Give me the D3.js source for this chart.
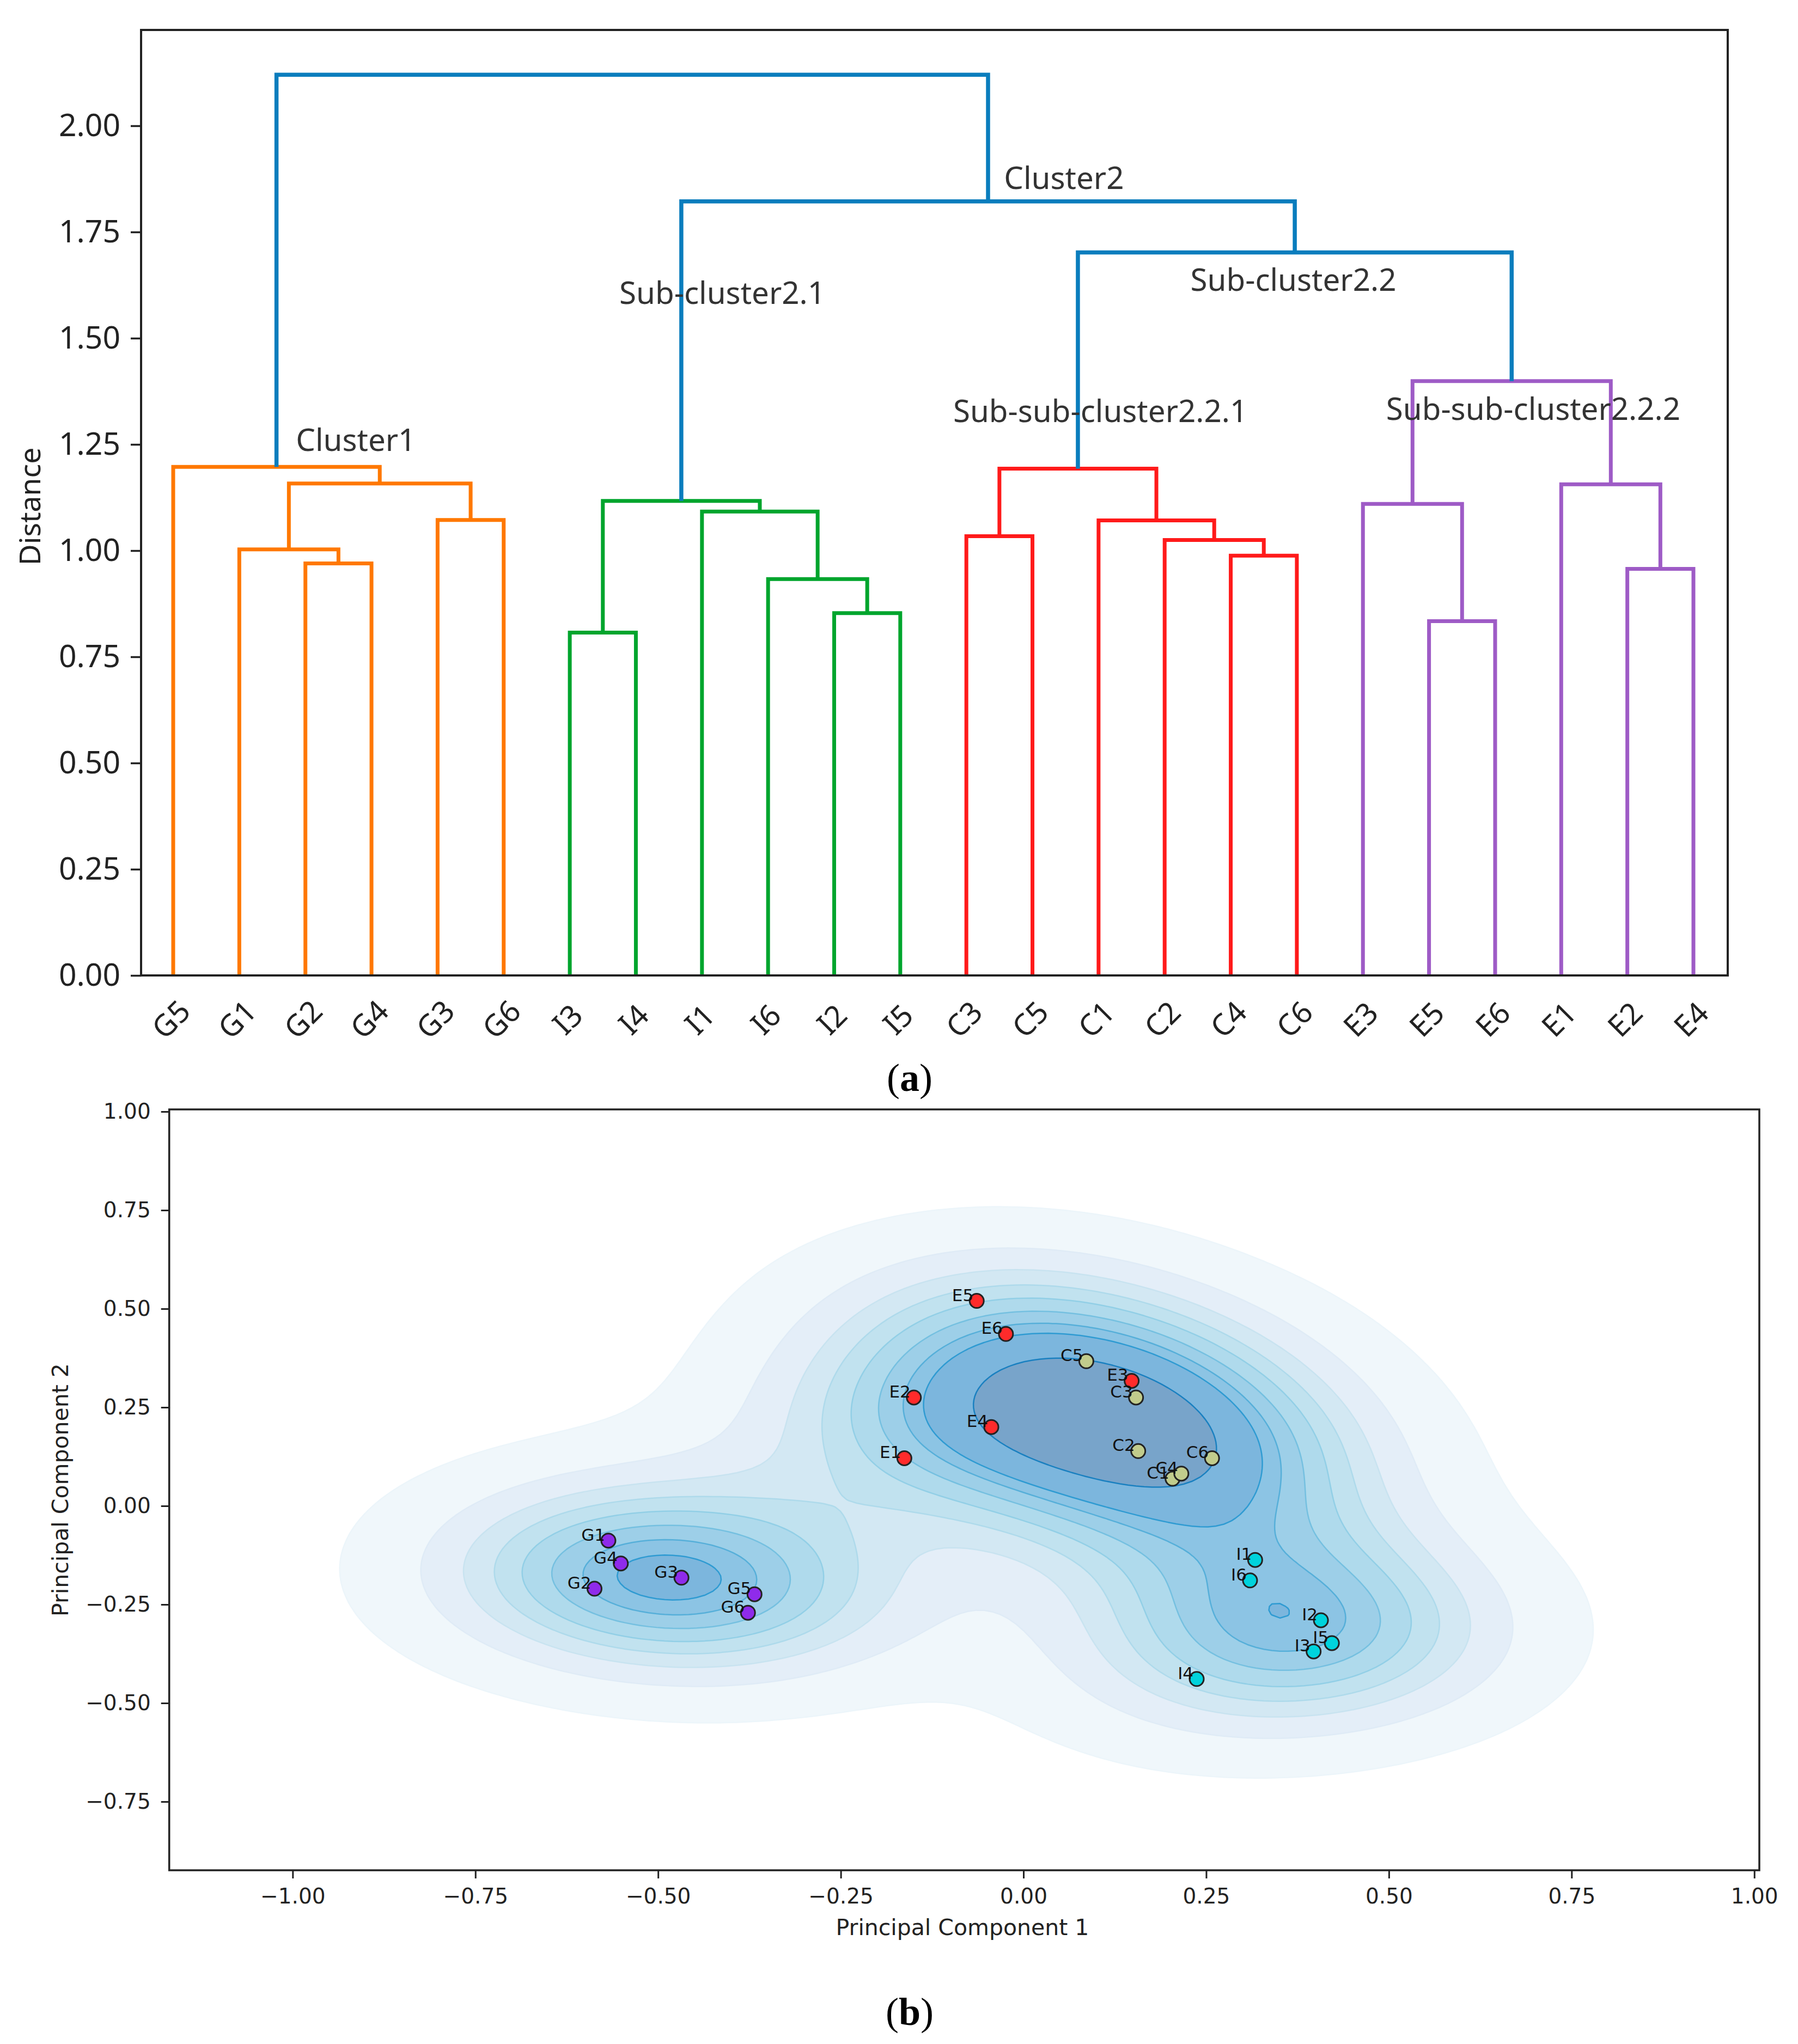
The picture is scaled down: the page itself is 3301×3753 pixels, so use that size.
<!DOCTYPE html>
<html><head><meta charset="utf-8">
<script src="https://cdn.jsdelivr.net/npm/d3@7"></script>
<style>html,body{margin:0;padding:0;background:#fff}svg{display:block}</style>
</head><body><div id="chart"></div>
<script>
// ---- Panel (a) data
const leaves = ["G5","G1","G2","G4","G3","G6","I3","I4","I1","I6","I2","I5","C3","C5","C1","C2","C4","C6","E3","E5","E6","E1","E2","E4"];
const mergeA = ["G2","G1","G3","m1","G5","I3","I2","I6","I1","m5","C3","C4","C2","C1","m10","E5","E3","E2","E1","m16","m14","m9","m4"];
const mergeB = ["G4","m0","G6","m2","m3","I4","I5","m6","m7","m8","C5","C6","m11","m12","m13","E6","m15","E4","m17","m18","m19","m20","m21"];
const mergeHeights = [0.970,1.003,1.072,1.158,1.197,0.807,0.853,0.933,1.092,1.117,1.034,0.988,1.025,1.071,1.193,0.834,1.110,0.957,1.156,1.399,1.702,1.822,2.120];
const mergeGroups = ["G","G","G","G","G","I","I","I","I","I","C","C","C","C","C","E","E","E","E","E","top","top","top"];
const distanceTicks = [0,0.25,0.5,0.75,1,1.25,1.5,1.75,2];
const noteTexts = ["Cluster1","Cluster2","Sub-cluster2.1","Sub-cluster2.2","Sub-sub-cluster2.2.1","Sub-sub-cluster2.2.2"];
const noteLeaf = [1.856,12.57,6.75,15.39,11.80,18.35];
const noteDist = [1.235,1.851,1.581,1.612,1.302,1.308];

// ---- Panel (b) data
const pointNames = ["G1","G2","G3","G4","G5","G6","I1","I2","I3","I4","I5","I6","E1","E2","E3","E4","E5","E6","C1","C2","C3","C4","C5","C6"];
const pc1 = [-0.568,-0.587,-0.468,-0.551,-0.368,-0.377,0.317,0.407,0.397,0.237,0.422,0.310,-0.163,-0.150,0.148,-0.044,-0.064,-0.024,0.204,0.157,0.154,0.216,0.086,0.258];
const pc2 = [-0.088,-0.210,-0.182,-0.146,-0.224,-0.271,-0.137,-0.290,-0.369,-0.439,-0.348,-0.189,0.121,0.275,0.317,0.200,0.520,0.436,0.069,0.139,0.275,0.082,0.367,0.121];
const pcTicks = [-1,-0.75,-0.5,-0.25,0,0.25,0.5,0.75,1];
const pc2Ticks = [-0.75,-0.5,-0.25,0,0.25,0.5,0.75,1];
const bandFills = ["#f0f7fb","#e4eef8","#d3e8f3","#c1e2ef","#afdaec","#9dcfe8","#8cc4e4","#7cb6dd","#78a4ca"];
const bandLines = ["#ecf5fa","#dfebf6","#c8e3f0","#aedaeb","#92cfe6","#75c0e0","#56afd9","#2f9bd2","#1a80c0"];

const W = 3301, H = 3753;
const clusterColors = {G:"#ff7800", I:"#00a52d", C:"#ff1a1a", E:"#9e5bc6", top:"#0a7dbd"};
const pointColors = {G:"#8f2bea", I:"#00d3dc", E:"#ff2b2b", C:"#c1cc8c"};
const sansA = "'Noto Sans','Open Sans',sans-serif", sansB = "'DejaVu Sans',sans-serif";

const svg = d3.select("#chart").append("svg").attr("width",W).attr("height",H).attr("viewBox",`0 0 ${W} ${H}`);
svg.append("rect").attr("width",W).attr("height",H).attr("fill","#fff");

// ===== Panel (a) =====
const A = {l:259,r:3172,t:55,b:1791};
const xa = d3.scaleLinear().domain([0,leaves.length-1]).range([318,3109]);
const ya = d3.scaleLinear().domain([0,2.2256]).range([A.b,A.t]);
const ga = svg.append("g");
const nodePos = new Map(leaves.map((n,i)=>[n,{x:i,y:0}]));
const link = d3.line().x(d=>xa(d[0])).y(d=>ya(d[1]));
mergeA.forEach((a,i)=>{
  const p=nodePos.get(a), q=nodePos.get(mergeB[i]), h=mergeHeights[i];
  nodePos.set("m"+i,{x:(p.x+q.x)/2,y:h});
  ga.append("path").attr("d",link([[p.x,p.y],[p.x,h],[q.x,h],[q.x,q.y]]))
    .attr("fill","none").attr("stroke",clusterColors[mergeGroups[i]])
    .attr("stroke-width",mergeGroups[i]==="top"?7.5:7).attr("stroke-linejoin","miter");
});
ga.append("rect").attr("x",A.l).attr("y",A.t).attr("width",A.r-A.l).attr("height",A.b-A.t)
  .attr("fill","none").attr("stroke","#222").attr("stroke-width",4);
const yAxisA = ga.append("g").attr("transform",`translate(${A.l},0)`)
  .call(d3.axisLeft(ya).tickValues(distanceTicks).tickFormat(d3.format(".2f")).tickSize(19).tickPadding(19));
yAxisA.select(".domain").remove();
yAxisA.selectAll("line").attr("stroke","#222").attr("stroke-width",3.5);
yAxisA.selectAll("text").attr("font-family",sansA).attr("font-size",57).attr("fill","#222");
ga.append("text").attr("transform",`translate(74,${ya(1)-81}) rotate(-90)`).attr("text-anchor","middle")
  .attr("font-family",sansA).attr("font-size",53.5).attr("fill","#222").text("Distance");
ga.selectAll(".leaf").data(leaves).join("text").attr("class","leaf")
  .attr("transform",(d,i)=>`translate(${xa(i)-4},${A.b+81}) rotate(-45)`)
  .attr("text-anchor","middle").attr("dy","0.35em")
  .attr("font-family",sansA).attr("font-size",55).attr("fill","#222").text(d=>d);
ga.selectAll(".note").data(noteTexts).join("text").attr("class","note")
  .attr("x",(d,i)=>xa(noteLeaf[i])).attr("y",(d,i)=>ya(noteDist[i]))
  .attr("font-family",sansA).attr("font-size",56.5).attr("fill","#333").text(d=>d);

svg.append("text").attr("x",1670).attr("y",2003).attr("text-anchor","middle")
  .attr("font-family","'Liberation Serif',serif").attr("font-size",72).attr("fill","#000")
  .html('(<tspan font-weight="bold">a</tspan>)');

// ===== Panel (b) =====
const B = {l:310.7,r:3230,t:2037,b:3434};
const xDom=[-1.1689,1.0069], yDom=[-0.924,1.0055];
const xb = d3.scaleLinear().domain(xDom).range([B.l,B.r]);
const yb = d3.scaleLinear().domain(yDom).range([B.b,B.t]);

// Gaussian KDE of the points, as the source plot computes it (Scott bandwidth, iso-proportion levels)
const n = pc1.length, mx=d3.mean(pc1), my=d3.mean(pc2);
let sxx=0,syy=0,sxy=0;
pc1.forEach((x,i)=>{sxx+=(x-mx)**2;syy+=(pc2[i]-my)**2;sxy+=(x-mx)*(pc2[i]-my);});
sxx/=n-1;syy/=n-1;sxy/=n-1;
const factor2 = Math.pow(n,-1/3);
const cxx=sxx*factor2, cyy=syy*factor2, cxy=sxy*factor2, det=cxx*cyy-cxy*cxy;
const ixx=cyy/det, iyy=cxx/det, ixy=-cxy/det;
const G=200, gridX=d3.range(G).map(i=>xDom[0]+i/(G-1)*(xDom[1]-xDom[0])), gridY=d3.range(G).map(i=>yDom[0]+i/(G-1)*(yDom[1]-yDom[0]));
const dens=new Float64Array(G*G);
for(let j=0;j<G;j++)for(let i=0;i<G;i++){let s=0;
  for(let k=0;k<n;k++){const dx=gridX[i]-pc1[k],dy=gridY[j]-pc2[k];
    s+=Math.exp(-0.5*(ixx*dx*dx+2*ixy*dx*dy+iyy*dy*dy));}
  dens[j*G+i]=s;}
const sorted=Array.from(dens).sort((a,b)=>b-a), total=d3.sum(sorted);
const cum=[];let acc=0;for(const v of sorted){acc+=v;cum.push(acc/total);}
const levels=d3.range(10).map(i=>{const q=0.05+i*(0.95/9);const idx=d3.bisectLeft(cum,1-q);return sorted[Math.min(idx,sorted.length-1)];});
const cont=d3.contours().size([G,G]).thresholds(levels.slice(0,9))(Array.from(dens));
const gx=d3.scaleLinear().domain([0.5,G-0.5]).range([xb(xDom[0]),xb(xDom[1])]);
const gy=d3.scaleLinear().domain([0.5,G-0.5]).range([yb(yDom[0]),yb(yDom[1])]);
const contourPath=d3.geoPath(d3.geoTransform({point(x,y){this.stream.point(gx(x),gy(y));}}));
const gb=svg.append("g");
gb.selectAll(".band").data(cont).join("path").attr("class","band").attr("d",contourPath)
  .attr("fill",(d,i)=>bandFills[i]).attr("stroke",(d,i)=>bandLines[i]).attr("stroke-width",2.5);

// points
const order=d3.range(n);
gb.selectAll(".pt").data(order).join("circle").attr("class","pt")
  .attr("cx",i=>xb(pc1[i])).attr("cy",i=>yb(pc2[i])).attr("r",13)
  .attr("fill",i=>pointColors[pointNames[i][0]]).attr("stroke","#222").attr("stroke-width",3);
gb.selectAll(".ptl").data(order).join("text").attr("class","ptl")
  .attr("x",i=>xb(pc1[i])-6).attr("y",i=>yb(pc2[i])).attr("text-anchor","end")
  .attr("font-family",sansB).attr("font-size",31).attr("fill","#111").text(i=>pointNames[i]);

gb.append("rect").attr("x",B.l).attr("y",B.t).attr("width",B.r-B.l).attr("height",B.b-B.t)
  .attr("fill","none").attr("stroke","#222").attr("stroke-width",3.5);
const fmt=v=>d3.format(".2f")(v).replace("-","\u2212");
const xAxisB=gb.append("g").attr("transform",`translate(0,${B.b})`)
  .call(d3.axisBottom(xb).tickValues(pcTicks).tickFormat(fmt).tickSize(15).tickPadding(18));
const yAxisB=gb.append("g").attr("transform",`translate(${B.l},0)`)
  .call(d3.axisLeft(yb).tickValues(pc2Ticks).tickFormat(fmt).tickSize(15).tickPadding(19));
[xAxisB,yAxisB].forEach(ax=>{ax.select(".domain").remove();
  ax.selectAll("line").attr("stroke","#222").attr("stroke-width",3);
  ax.selectAll("text").attr("font-family",sansB).attr("font-size",39).attr("fill","#222");});
gb.append("text").attr("x",1767).attr("y",3553).attr("text-anchor","middle")
  .attr("font-family",sansB).attr("font-size",41).attr("fill","#222").text("Principal Component 1");
gb.append("text").attr("transform",`translate(125,${(B.t+B.b)/2}) rotate(-90)`).attr("text-anchor","middle")
  .attr("font-family",sansB).attr("font-size",41).attr("fill","#222").text("Principal Component 2");
svg.append("text").attr("x",1670).attr("y",3718).attr("text-anchor","middle")
  .attr("font-family","'Liberation Serif',serif").attr("font-size",72).attr("fill","#000")
  .html('(<tspan font-weight="bold">b</tspan>)');
</script></body></html>
